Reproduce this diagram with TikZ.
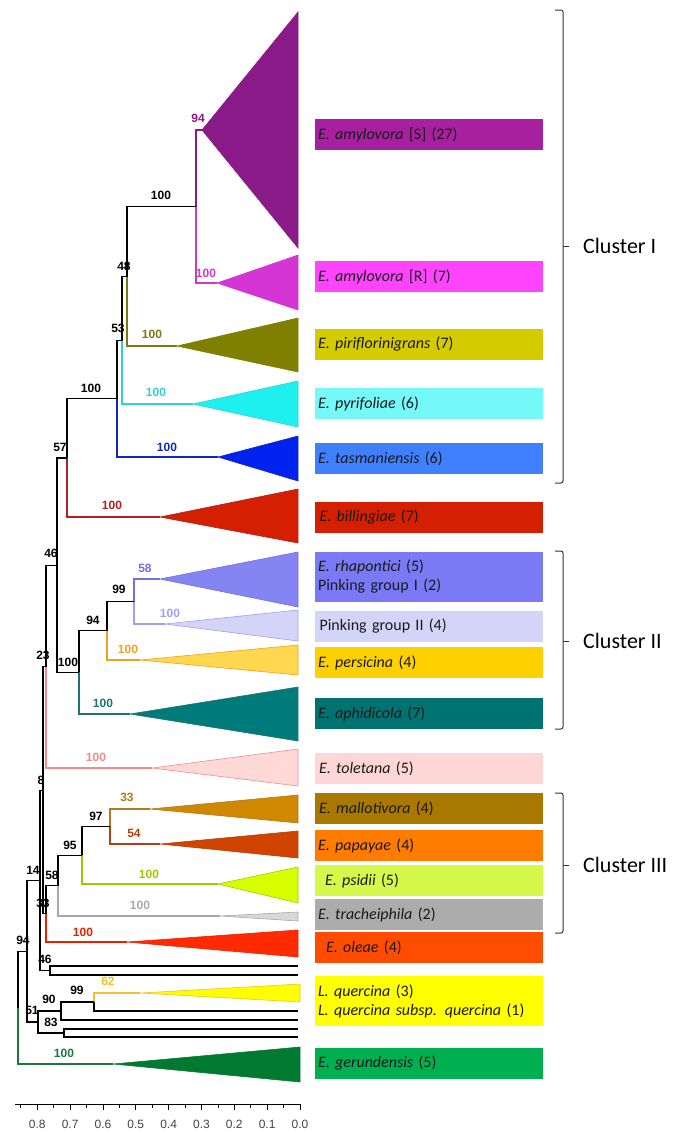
\documentclass[tikz,border=0pt]{standalone}
\usepackage{fontspec}
\setmainfont{Carlito}
\newfontfamily\arial{Liberation Sans}
% triangle fills
\definecolor{cAmyS}{HTML}{8B1A89}
\definecolor{cAmyR}{HTML}{D535D5}
\definecolor{cPiri}{HTML}{808000}
\definecolor{cPyri}{HTML}{1EF0F0}
\definecolor{cTasm}{HTML}{0022EE}
\definecolor{cBill}{HTML}{D42000}
\definecolor{cRhap}{HTML}{8484F2}
\definecolor{cPink}{HTML}{D4D4F8}
\definecolor{cPers}{HTML}{FFD850}
\definecolor{cAphi}{HTML}{007B7B}
\definecolor{cTole}{HTML}{FFD8D8}
\definecolor{cMall}{HTML}{D08800}
\definecolor{cPapa}{HTML}{D04400}
\definecolor{cPsid}{HTML}{D8FF00}
\definecolor{cTrac}{HTML}{D8D8D8}
\definecolor{cOlea}{HTML}{FF2A00}
\definecolor{cLque}{HTML}{FFFF00}
\definecolor{cGeru}{HTML}{007A30}
% branch / label colours
\definecolor{lAmyS}{HTML}{8B1A89}
\definecolor{lAmyR}{HTML}{C83CC8}
\definecolor{lPiri}{HTML}{7A7A10}
\definecolor{lPyri}{HTML}{30D0D0}
\definecolor{lTasm}{HTML}{1028C8}
\definecolor{lBill}{HTML}{B02020}
\definecolor{lRhap}{HTML}{7070E0}
\definecolor{lPink}{HTML}{A0A0F0}
\definecolor{lPers}{HTML}{F0A020}
\definecolor{lAphi}{HTML}{207272}
\definecolor{lTole}{HTML}{F08C8C}
\definecolor{lMall}{HTML}{B07A20}
\definecolor{lPapa}{HTML}{B04010}
\definecolor{lPsid}{HTML}{9ACD00}
\definecolor{lTrac}{HTML}{A8A8A8}
\definecolor{lOlea}{HTML}{E82000}
\definecolor{lLque}{HTML}{F0C030}
\definecolor{lGeru}{HTML}{1A7A3A}
% bar colours
\definecolor{bAmyS}{HTML}{A6209F}
\definecolor{bAmyR}{HTML}{FF44FF}
\definecolor{bPiri}{HTML}{D4CC00}
\definecolor{bPyri}{HTML}{74F8F8}
\definecolor{bTasm}{HTML}{4080FF}
\definecolor{bBill}{HTML}{D42000}
\definecolor{bRhap}{HTML}{7A7AF6}
\definecolor{bPink}{HTML}{D4D4F8}
\definecolor{bPers}{HTML}{FFD000}
\definecolor{bAphi}{HTML}{007272}
\definecolor{bTole}{HTML}{FFD6D6}
\definecolor{bMall}{HTML}{A87800}
\definecolor{bPapa}{HTML}{FF7C00}
\definecolor{bPsid}{HTML}{D6F84A}
\definecolor{bTrac}{HTML}{ACACAC}
\definecolor{bOlea}{HTML}{FF4C00}
\definecolor{bLque}{HTML}{FFFF00}
\definecolor{bGeru}{HTML}{00B050}
\definecolor{txt}{HTML}{1A1A1A}
\definecolor{axisgray}{HTML}{444444}
\definecolor{brk}{HTML}{333333}
\begin{document}
\begin{tikzpicture}[x=1pt,y=-1pt,
  br/.style={line width=1.1pt},
  tri/.style={line width=0.6pt},
  bs/.style={font=\arial\bfseries\fontsize{12}{12}\selectfont, inner sep=0pt},
  bar/.style={anchor=north west, inner xsep=3pt, inner ysep=0pt, text width=222pt, align=left,
              minimum height=31pt, font=\fontsize{16}{19}\selectfont, text=txt, outer sep=0pt},
  clu/.style={anchor=west, font=\fontsize{22}{24}\selectfont, text=black, inner sep=0pt},
  bracket/.style={draw=brk, line width=1pt, rounded corners=2pt},
  axl/.style={font=\arial\fontsize{12}{12}\selectfont, text=axisgray, inner sep=0pt}
]
\useasboundingbox (0,0) rectangle (680,1133);

% ---- clade apexes (collapsed triangles) ----
\coordinate (amyS) at (202,130);
\coordinate (amyR) at (217,283);
\coordinate (piri) at (177,346);
\coordinate (pyri) at (193,404);
\coordinate (tasm) at (218,457);
\coordinate (bill) at (160,517);
\coordinate (rhap) at (160,579);
\coordinate (pink) at (165,624);
\coordinate (pers) at (140,660);
\coordinate (aphi) at (130,714);
\coordinate (tole) at (152,768);
\coordinate (mall) at (150,809);
\coordinate (papa) at (160,844);
\coordinate (psid) at (218,884);
\coordinate (trac) at (220,916);
\coordinate (olea) at (127,942);
\coordinate (lque) at (140,993);
\coordinate (geru) at (113,1064);
% single leaves
\coordinate (la) at (298,966);
\coordinate (lb) at (298,975);
\coordinate (lc) at (298,1011);
\coordinate (ld) at (298,1020);
\coordinate (le) at (298,1029);
\coordinate (lf) at (298,1037);
% internal nodes
\coordinate (nAmy) at (196,206.5);
\coordinate (n48) at (127,276.5);
\coordinate (n53) at (122,340.5);
\coordinate (nC1) at (117,398.5);
\coordinate (n57) at (67,458);
\coordinate (n99) at (134,601.5);
\coordinate (n94) at (107,630.75);
\coordinate (nC2) at (79,672.4);
\coordinate (n46) at (57,565.2);
\coordinate (n23) at (46,666.6);
\coordinate (n97) at (110,826.5);
\coordinate (n95) at (82,855.25);
\coordinate (n58) at (58,885.6);
\coordinate (n33) at (46,913.8);
\coordinate (n8) at (43,790.2);
\coordinate (n46b) at (50,970.5);
\coordinate (n14) at (40,880.35);
\coordinate (n99b) at (94,1002);
\coordinate (n90) at (61,1011);
\coordinate (n83) at (64,1033);
\coordinate (n51) at (38,1022);
\coordinate (nX) at (27,951.2);
\coordinate (root) at (18,1007.6);

% ---- triangles ----
\filldraw[tri, fill=cAmyS, draw=cAmyS] (amyS) -- (298,12) -- (298,248) -- cycle;
\filldraw[tri, fill=cAmyR, draw=lAmyR] (amyR) -- (298,255) -- (298,310) -- cycle;
\filldraw[tri, fill=cPiri, draw=cPiri] (piri) -- (298,318) -- (298,372) -- cycle;
\filldraw[tri, fill=cPyri, draw=lPyri] (pyri) -- (298,381) -- (298,427) -- cycle;
\filldraw[tri, fill=cTasm, draw=lTasm] (tasm) -- (298,436) -- (298,481) -- cycle;
\filldraw[tri, fill=cBill, draw=lBill] (bill) -- (298,489) -- (298,543) -- cycle;
\filldraw[tri, fill=cRhap, draw=lRhap] (rhap) -- (298,552) -- (298,607) -- cycle;
\filldraw[tri, fill=cPink, draw=lPink] (pink) -- (298,610) -- (298,641) -- cycle;
\filldraw[tri, fill=cPers, draw=lPers] (pers) -- (298,645) -- (298,675) -- cycle;
\filldraw[tri, fill=cAphi, draw=lAphi] (aphi) -- (298,687) -- (298,741) -- cycle;
\filldraw[tri, fill=cTole, draw=lTole] (tole) -- (298,749) -- (298,786) -- cycle;
\filldraw[tri, fill=cMall, draw=lMall] (mall) -- (298,795) -- (298,823) -- cycle;
\filldraw[tri, fill=cPapa, draw=lPapa] (papa) -- (298,831) -- (298,858) -- cycle;
\filldraw[tri, fill=cPsid, draw=lPsid] (psid) -- (298,867) -- (298,903) -- cycle;
\filldraw[tri, fill=cTrac, draw=lTrac] (trac) -- (298,912) -- (298,921) -- cycle;
\filldraw[tri, fill=cOlea, draw=lOlea] (olea) -- (298,930) -- (298,957) -- cycle;
\filldraw[tri, fill=cLque, draw=lLque] (lque) -- (300,984) -- (300,1002) -- cycle;
\filldraw[tri, fill=cGeru, draw=cGeru] (geru) -- (300,1047) -- (300,1082) -- cycle;

% ---- branches ----
\draw[br, lAmyS] (nAmy) |- (amyS);
\draw[br, lAmyR] (nAmy) |- (amyR);
\draw[br, black] (n48) |- (nAmy);
\draw[br, lPiri] (n48) |- (piri);
\draw[br, black] (n53) |- (n48);
\draw[br, lPyri] (n53) |- (pyri);
\draw[br, black] (nC1) |- (n53);
\draw[br, lTasm] (nC1) |- (tasm);
\draw[br, black] (n57) |- (nC1);
\draw[br, lBill] (n57) |- (bill);
\draw[br, lRhap] (n99) |- (rhap);
\draw[br, lPink] (n99) |- (pink);
\draw[br, black] (n94) |- (n99);
\draw[br, lPers] (n94) |- (pers);
\draw[br, black] (nC2) |- (n94);
\draw[br, lAphi] (nC2) |- (aphi);
\draw[br, black] (n46) |- (n57);
\draw[br, black] (n46) |- (nC2);
\draw[br, black] (n23) |- (n46);
\draw[br, lTole] (n23) |- (tole);
\draw[br, lMall] (n97) |- (mall);
\draw[br, lPapa] (n97) |- (papa);
\draw[br, black] (n95) |- (n97);
\draw[br, lPsid] (n95) |- (psid);
\draw[br, black] (n58) |- (n95);
\draw[br, lTrac] (n58) |- (trac);
\draw[br, black] (n33) |- (n58);
\draw[br, lOlea] (n33) |- (olea);
\draw[br, black] (n8) |- (n23);
\draw[br, black] (n8) |- (n33);
\draw[br, black] (n46b) |- (la);
\draw[br, black] (n46b) |- (lb);
\draw[br, black] (n14) |- (n8);
\draw[br, black] (n14) |- (n46b);
\draw[br, lLque] (n99b) |- (lque);
\draw[br, black] (n99b) |- (lc);
\draw[br, black] (n90) |- (n99b);
\draw[br, black] (n90) |- (ld);
\draw[br, black] (n83) |- (le);
\draw[br, black] (n83) |- (lf);
\draw[br, black] (n51) |- (n90);
\draw[br, black] (n51) |- (n83);
\draw[br, black] (nX) |- (n14);
\draw[br, black] (nX) |- (n51);
\draw[br, black] (root) |- (nX);
\draw[br, lGeru] (root) |- (geru);

% ---- bootstrap values ----
\node[bs, lAmyS] (s1) at (198,118) {94};
\node[bs, lAmyR] (s2) at (206,273) {100};
\node[bs] (s3) at (161,195) {100};
\node[bs] (s4) at (124,266) {48};
\node[bs] (s5) at (118,328) {53};
\node[bs, lPiri] (s6) at (152,334) {100};
\node[bs, lPyri] (s7) at (156,392) {100};
\node[bs] (s8) at (91,388) {100};
\node[bs, lTasm] (s9) at (167,447) {100};
\node[bs] (s10) at (60,447) {57};
\node[bs, lBill] (s11) at (112,505) {100};
\node[bs] (s12) at (51,553) {46};
\node[bs, lRhap] (s13) at (145,568) {58};
\node[bs] (s14) at (119,589) {99};
\node[bs, lPink] (s15) at (170,613) {100};
\node[bs] (s16) at (93,620) {94};
\node[bs, lPers] (s17) at (128,649) {100};
\node[bs] (s18) at (68,662) {100};
\node[bs] (s19) at (43,655) {23};
\node[bs, lAphi] (s20) at (103,703) {100};
\node[bs, lTole] (s21) at (96,757) {100};
\node[bs] (s22) at (41,780) {8};
\node[bs, lMall] (s23) at (127,797) {33};
\node[bs] (s24) at (96,816) {97};
\node[bs, lPapa] (s25) at (134,833) {54};
\node[bs] (s26) at (70,845) {95};
\node[bs] (s27) at (33,870) {14};
\node[bs] (s28) at (52,875) {58};
\node[bs, lPsid] (s29) at (149,874) {100};
\node[bs, lTrac] (s30) at (140,905) {100};
\node[bs] (s31) at (43,903) {33};
\node[bs, lOlea] (s32) at (83,932) {100};
\node[bs] (s33) at (23,940) {94};
\node[bs] (s34) at (45,959) {46};
\node[bs, lLque] (s35) at (108,981) {62};
\node[bs] (s36) at (77,990) {99};
\node[bs] (s37) at (49,999) {90};
\node[bs] (s38) at (32,1010) {51};
\node[bs] (s39) at (51,1022) {83};
\node[bs, lGeru] (s40) at (64,1053) {100};

% ---- coloured label bars ----
\node[bar, fill=bAmyS] (tAmyS) at (315,119) {\textit{E. amylovora} [S] (27)};
\node[bar, fill=bAmyR] (tAmyR) at (315,261) {\textit{E. amylovora} [R] (7)};
\node[bar, fill=bPiri] (tPiri) at (315,329) {\textit{E. piriflorinigrans} (7)};
\node[bar, fill=bPyri] (tPyri) at (315,388) {\textit{E. pyrifoliae} (6)};
\node[bar, fill=bTasm] (tTasm) at (315,443) {\textit{E. tasmaniensis} (6)};
\node[bar, fill=bBill] (tBill) at (315,502) {\hspace{1.5pt}\textit{E. billingiae} (7)};
\node[bar, fill=bRhap, minimum height=50pt] (tRhap) at (315,552) {\textit{E. rhapontici} (5)\\Pinking group I (2)};
\node[bar, fill=bPink] (tPink) at (315,611) {\hspace{1.5pt}Pinking group II (4)};
\node[bar, fill=bPers] (tPers) at (315,647) {\textit{E. persicina} (4)};
\node[bar, fill=bAphi] (tAphi) at (315,698) {\textit{E. aphidicola} (7)};
\node[bar, fill=bTole] (tTole) at (315,753) {\hspace{1pt}\textit{E. toletana} (5)};
\node[bar, fill=bMall] (tMall) at (315,793) {\hspace{1pt}\textit{E. mallotivora} (4)};
\node[bar, fill=bPapa] (tPapa) at (315,830) {\textit{E. papayae} (4)};
\node[bar, fill=bPsid] (tPsid) at (315,865) {\hspace{7pt}\textit{E. psidii} (5)};
\node[bar, fill=bTrac] (tTrac) at (315,899) {\textit{E. tracheiphila} (2)};
\node[bar, fill=bOlea] (tOlea) at (315,932) {\hspace{8pt}\textit{E. oleae} (4)};
\node[bar, fill=bLque, minimum height=50pt] (tLque) at (315,976) {\textit{L. quercina} (3)\\\textit{L. quercina subsp. quercina} (1)};
\node[bar, fill=bGeru] (tGeru) at (315,1048) {\textit{E. gerundensis} (5)};

% ---- cluster brackets ----
\draw[bracket] (555,10) -- (563,10) -- (563,483) -- (555,483);
\draw[bracket] (563,246) -- (569,246);
\node[clu] (c1) at (583,246) {Cluster I};
\draw[bracket] (555,551) -- (563,551) -- (563,729) -- (555,729);
\draw[bracket] (563,641) -- (569,641);
\node[clu] (c2) at (583,641) {Cluster II};
\draw[bracket] (555,793) -- (563,793) -- (563,933) -- (555,933);
\draw[bracket] (563,865) -- (569,865);
\node[clu] (c3) at (583,865) {Cluster III};

% ---- scale axis ----
\draw[line width=0.9pt, black] (15,1104) -- (300,1104);
\foreach \i in {0,...,8} {
  \draw[line width=0.9pt] ({300-32.84*\i},1104) -- ({300-32.84*\i},1110);
}
\foreach \i in {0,...,8} {
  \draw[line width=0.8pt] ({300-32.84*(\i+0.5)},1104) -- ({300-32.84*(\i+0.5)},1107.5);
}
\node[axl] (a0) at (300,1124) {0.0};
\node[axl] (a1) at ({300-32.84},1124) {0.1};
\node[axl] (a2) at ({300-32.84*2},1124) {0.2};
\node[axl] (a3) at ({300-32.84*3},1124) {0.3};
\node[axl] (a4) at ({300-32.84*4},1124) {0.4};
\node[axl] (a5) at ({300-32.84*5},1124) {0.5};
\node[axl] (a6) at ({300-32.84*6},1124) {0.6};
\node[axl] (a7) at ({300-32.84*7},1124) {0.7};
\node[axl] (a8) at ({300-32.84*8},1124) {0.8};
\end{tikzpicture}
\end{document}
